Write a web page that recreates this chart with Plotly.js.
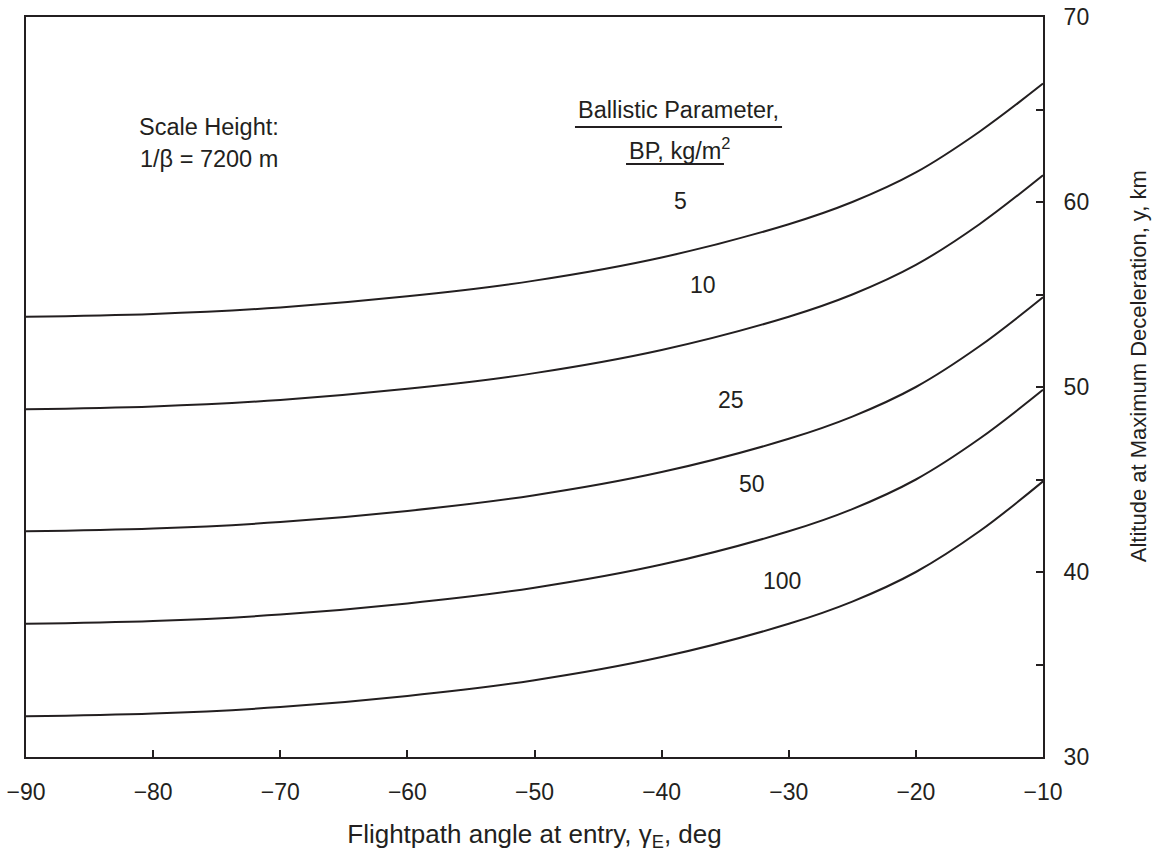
<!DOCTYPE html>
<html>
<head>
<meta charset="utf-8">
<script src="https://cdn.plot.ly/plotly-3.0.1.min.js"></script>
<style>
  html, body { margin: 0; padding: 0; background: #ffffff; }
  #chart { width: 1159px; height: 859px; }
</style>
</head>
<body>
<div id="chart"></div>
<script>
// Flightpath angle at entry (deg)
const gammaE = [-90, -80, -70, -60, -50, -40, -30, -25, -20, -15, -10];

// Altitude at maximum deceleration (km) for each ballistic parameter
const alt_bp5   = [53.8, 53.95, 54.3, 54.9, 55.75, 57.0, 58.8, 60.0, 61.6, 63.8, 66.4];
const alt_bp10  = [48.8, 48.95, 49.3, 49.9, 50.75, 52.0, 53.8, 55.0, 56.6, 58.8, 61.45];
const alt_bp25  = [42.2, 42.35, 42.7, 43.3, 44.15, 45.4, 47.2, 48.4, 50.0, 52.2, 54.85];
const alt_bp50  = [37.2, 37.35, 37.7, 38.3, 39.15, 40.4, 42.2, 43.4, 45.0, 47.2, 49.85];
const alt_bp100 = [32.2, 32.35, 32.7, 33.3, 34.15, 35.4, 37.2, 38.4, 40.0, 42.2, 44.9];

const bpLabels = ['5', '10', '25', '50', '100'];
const bpSeries = [alt_bp5, alt_bp10, alt_bp25, alt_bp50, alt_bp100];

// Where each curve's BP label sits (data coordinates)
const bpLabelX = [-38.5, -36.75, -34.55, -32.9, -30.55];
const bpLabelY = [60.05, 55.5, 49.3, 44.75, 39.5];

// Axis ticks
const xTicks = [-90, -80, -70, -60, -50, -40, -30, -20, -10];
const yTicks = [30, 40, 50, 60, 70];

const INK = '#231f20';
const FONT = 'Arial, "Liberation Sans", Helvetica, sans-serif';

const traces = bpSeries.map((ys, i) => ({
  type: 'scatter',
  mode: 'lines',
  name: 'BP = ' + bpLabels[i],
  x: gammaE,
  y: ys,
  line: { color: INK, width: 2, shape: 'spline', smoothing: 1 },
  hoverinfo: 'x+y+name'
}));

const annotations = bpLabels.map((t, i) => ({
  x: bpLabelX[i], y: bpLabelY[i], xref: 'x', yref: 'y',
  text: t, showarrow: false,
  font: { family: FONT, size: 23, color: INK },
  xanchor: 'center', yanchor: 'middle'
}));

annotations.push(
  {
    x: 0.18, y: 0.852, xref: 'paper', yref: 'paper',
    text: 'Scale Height:', showarrow: false,
    font: { family: FONT, size: 23.5, color: INK },
    xanchor: 'center', yanchor: 'middle'
  },
  {
    x: 0.18, y: 0.808, xref: 'paper', yref: 'paper',
    text: '1/β = 7200 m', showarrow: false,
    font: { family: FONT, size: 23.5, color: INK },
    xanchor: 'center', yanchor: 'middle'
  },
  {
    x: 0.6415, y: 0.874, xref: 'paper', yref: 'paper',
    text: 'Ballistic Parameter,', showarrow: false,
    font: { family: FONT, size: 23.5, color: INK },
    xanchor: 'center', yanchor: 'middle'
  },
  {
    x: 0.6425, y: 0.821, xref: 'paper', yref: 'paper',
    text: 'BP, kg/m<sup>2</sup>', showarrow: false,
    font: { family: FONT, size: 23.5, color: INK },
    xanchor: 'center', yanchor: 'middle'
  },
  {
    // right-hand axis title, set a little above the axis midpoint
    x: 1.0934, y: 0.528, xref: 'paper', yref: 'paper',
    text: 'Altitude at Maximum Deceleration, y, km', showarrow: false,
    textangle: -90,
    font: { family: FONT, size: 22, color: INK },
    xanchor: 'center', yanchor: 'middle'
  }
);

// Underlines of the legend heading
const shapes = [
  { type: 'line', xref: 'paper', yref: 'paper', x0: 0.5398, x1: 0.7434, y0: 0.8514, y1: 0.8514,
    line: { color: INK, width: 2 } },
  { type: 'line', xref: 'paper', yref: 'paper', x0: 0.59, x1: 0.6863, y0: 0.8014, y1: 0.8014,
    line: { color: INK, width: 2 } }
];

const layout = {
  width: 1159,
  height: 859,
  margin: { l: 26, r: 116, t: 17, b: 102, pad: 0 },
  paper_bgcolor: '#ffffff',
  plot_bgcolor: '#ffffff',
  showlegend: false,
  font: { family: FONT, color: INK },
  xaxis: {
    range: [-90, -10],
    tickvals: xTicks,
    ticks: 'inside',
    ticklen: 7,
    tickwidth: 2,
    tickcolor: INK,
    showgrid: false,
    zeroline: false,
    showline: true,
    mirror: true,
    linecolor: INK,
    linewidth: 2,
    ticklabelstandoff: 13,
    tickfont: { family: FONT, size: 23, color: INK },
    title: {
      text: 'Flightpath angle at entry, γ<sub>E</sub>, deg',
      font: { family: FONT, size: 26, color: INK },
      standoff: 21
    },
    fixedrange: true
  },
  yaxis: {
    range: [30, 70],
    side: 'right',
    tickvals: yTicks,
    ticks: 'inside',
    ticklen: 7,
    tickwidth: 2,
    tickcolor: INK,
    minor: {
      dtick: 5,
      ticks: 'inside',
      ticklen: 7,
      tickwidth: 2,
      tickcolor: INK,
      showgrid: false
    },
    showgrid: false,
    zeroline: false,
    showline: true,
    mirror: true,
    linecolor: INK,
    linewidth: 2,
    ticklabelstandoff: 14,
    tickfont: { family: FONT, size: 23, color: INK },
    fixedrange: true
  },
  annotations: annotations,
  shapes: shapes
};

Plotly.newPlot('chart', traces, layout, { displayModeBar: false });
</script>
</body>
</html>
